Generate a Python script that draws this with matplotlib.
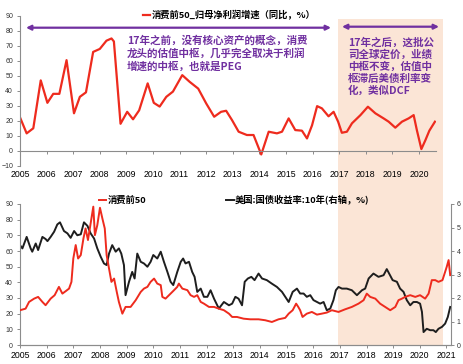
import matplotlib
matplotlib.use("Agg")
import matplotlib.pyplot as plt
from matplotlib.patches import Rectangle, FancyArrowPatch

plt.rcParams['font.family'] = ['Liberation Sans', 'Noto Sans CJK SC', 'DejaVu Sans']
CJK = ['Noto Sans CJK SC', 'DejaVu Sans']

# ---------------- data ----------------
# top: 消费前50 归母净利润增速 (同比, %)
top_points = [
    (2005.0, 22.3), (2005.25, 11.6), (2005.5, 15), (2005.78, 47), (2006.03, 32),
    (2006.25, 38), (2006.48, 38), (2006.75, 60.5), (2007.03, 25), (2007.25, 36),
    (2007.48, 39), (2007.75, 66), (2008.0, 68), (2008.25, 73.5), (2008.44, 75),
    (2008.53, 73), (2008.78, 18), (2009.03, 26), (2009.25, 21), (2009.48, 27),
    (2009.8, 45), (2010.03, 32), (2010.25, 29.5), (2010.5, 36), (2010.75, 39.5),
    (2011.1, 50.5), (2011.38, 46), (2011.7, 41.5), (2012.0, 31.6), (2012.3, 22.7),
    (2012.56, 26), (2012.75, 26.7), (2012.97, 20.5), (2013.22, 12.7), (2013.53, 10.5),
    (2013.78, 10.5), (2014.07, -2.5), (2014.35, 12.7), (2014.66, 11.6), (2014.85, 12.7),
    (2015.1, 21.6), (2015.35, 13.8), (2015.6, 13.4), (2015.79, 8.2), (2015.98, 17),
    (2016.17, 29.8), (2016.35, 28.3), (2016.6, 23), (2016.79, 26), (2016.96, 19.4),
    (2017.1, 12), (2017.29, 12.7), (2017.48, 18.3), (2017.8, 23.8), (2018.08, 29.4),
    (2018.36, 25), (2018.67, 21.6), (2018.86, 19.4), (2019.11, 15.4), (2019.36, 19.4),
    (2019.61, 21.6), (2019.8, 23.8), (2019.92, 13.8), (2020.09, 1.1), (2020.24, 7),
    (2020.39, 13.4), (2020.6, 19.4),
]
top_x = [p[0] for p in top_points]
top_y = [p[1] for p in top_points]

# bottom: 消费前50 (left axis)
cons_points = [
    (2005.0, 22.2), (2005.21, 23.2), (2005.34, 27.5), (2005.53, 29.6), (2005.68, 30.7),
    (2005.84, 27.5), (2005.96, 25.4), (2006.15, 29.6), (2006.3, 31.8), (2006.46, 37.1),
    (2006.59, 32.8), (2006.71, 34.3), (2006.84, 36), (2006.93, 40.3), (2007.0, 55.2),
    (2007.09, 63.8), (2007.18, 55.2), (2007.28, 57.4), (2007.38, 68), (2007.46, 74.4),
    (2007.55, 67), (2007.65, 77.6), (2007.75, 88.3), (2007.81, 70.1), (2007.9, 76.5),
    (2008.0, 87.6), (2008.09, 80.8), (2008.18, 74.4), (2008.25, 57.4), (2008.34, 48.8),
    (2008.43, 40.3), (2008.53, 42.4), (2008.63, 33.9), (2008.71, 27.5), (2008.84, 20),
    (2008.96, 24.3), (2009.15, 24.3), (2009.34, 28.6), (2009.53, 33.9), (2009.65, 36),
    (2009.78, 37.1), (2009.9, 40.3), (2010.03, 42.4), (2010.15, 39.2), (2010.28, 38.2),
    (2010.34, 30.7), (2010.46, 29.6), (2010.65, 32.8), (2010.78, 35), (2010.9, 37.1),
    (2010.96, 39.2), (2011.09, 36), (2011.28, 35), (2011.4, 31.8), (2011.53, 30.7),
    (2011.65, 31.8), (2011.78, 27.5), (2011.9, 26.4), (2012.09, 24.3), (2012.28, 24.3),
    (2012.46, 23.2), (2012.65, 22.2), (2012.84, 20), (2012.96, 17.9), (2013.14, 17.9),
    (2013.39, 16.8), (2013.64, 16.4), (2013.95, 16.4), (2014.2, 15.8), (2014.45, 14.7),
    (2014.7, 16.4), (2014.95, 17.3), (2015.08, 20), (2015.23, 22.2), (2015.36, 26.4),
    (2015.44, 24.3), (2015.51, 22.2), (2015.6, 17.9), (2015.76, 20), (2015.95, 21.1),
    (2016.14, 19.4), (2016.32, 20), (2016.51, 20.7), (2016.7, 22.2), (2016.95, 21.1),
    (2017.2, 22.8), (2017.45, 24.3), (2017.7, 26.4), (2017.89, 28.6), (2018.01, 32.8),
    (2018.14, 30.7), (2018.33, 29.6), (2018.51, 26.4), (2018.7, 24.3), (2018.89, 22.2),
    (2019.08, 24.3), (2019.2, 28.6), (2019.33, 29.6), (2019.45, 30.7), (2019.64, 31.8),
    (2019.83, 30.7), (2020.01, 31.8), (2020.2, 29.6), (2020.33, 32.8), (2020.45, 41.4),
    (2020.58, 41.4), (2020.7, 40.3), (2020.85, 41.4), (2020.95, 46.7), (2021.01, 49.9),
    (2021.08, 54.2), (2021.14, 44.6),
]
cons_x = [p[0] for p in cons_points]
cons_y = [p[1] for p in cons_points]

# bottom: 美国:国债收益率:10年 (right axis, %)
ust_points = [
    (2005.0, 4.25), (2005.09, 4.11), (2005.25, 4.6), (2005.4, 4.11), (2005.46, 3.97),
    (2005.59, 4.32), (2005.68, 4.04), (2005.84, 4.6), (2005.96, 4.51), (2006.03, 4.42),
    (2006.15, 4.6), (2006.28, 4.82), (2006.4, 5.13), (2006.5, 5.22), (2006.65, 4.85),
    (2006.78, 4.75), (2006.9, 4.56), (2007.03, 4.85), (2007.15, 4.67), (2007.28, 4.71),
    (2007.4, 5.22), (2007.53, 5.07), (2007.65, 4.75), (2007.78, 4.53), (2007.9, 4.11),
    (2008.03, 3.75), (2008.15, 3.47), (2008.25, 3.4), (2008.34, 3.89), (2008.46, 4.25),
    (2008.59, 3.97), (2008.71, 4.11), (2008.8, 3.89), (2008.9, 3.4), (2008.96, 2.12),
    (2009.09, 2.69), (2009.21, 3.11), (2009.3, 2.83), (2009.4, 3.89), (2009.53, 3.54),
    (2009.65, 3.47), (2009.78, 3.33), (2009.9, 3.54), (2010.0, 3.83), (2010.15, 3.68),
    (2010.28, 3.97), (2010.4, 3.54), (2010.53, 3.11), (2010.65, 2.69), (2010.75, 2.55),
    (2010.9, 3.11), (2011.03, 3.54), (2011.12, 3.68), (2011.21, 3.47), (2011.34, 3.54),
    (2011.46, 3.11), (2011.55, 2.9), (2011.65, 2.26), (2011.78, 2.4), (2011.9, 2.05),
    (2012.03, 2.05), (2012.15, 2.33), (2012.28, 1.97), (2012.46, 1.55), (2012.65, 1.83),
    (2012.84, 1.69), (2012.96, 1.76), (2013.08, 2.05), (2013.2, 1.97), (2013.33, 1.69),
    (2013.43, 2.69), (2013.55, 2.83), (2013.68, 2.9), (2013.8, 2.76), (2013.95, 3.04),
    (2014.08, 2.83), (2014.26, 2.76), (2014.45, 2.61), (2014.64, 2.47), (2014.83, 2.26),
    (2014.95, 2.05), (2015.08, 1.83), (2015.23, 2.26), (2015.39, 2.4), (2015.51, 2.19),
    (2015.64, 2.19), (2015.76, 2.05), (2015.89, 2.12), (2016.01, 1.91), (2016.14, 1.83),
    (2016.26, 1.76), (2016.39, 1.83), (2016.51, 1.48), (2016.64, 1.55), (2016.76, 1.91),
    (2016.85, 2.33), (2016.95, 2.47), (2017.08, 2.4), (2017.26, 2.4), (2017.45, 2.33),
    (2017.64, 2.12), (2017.83, 2.33), (2017.95, 2.4), (2018.08, 2.83), (2018.26, 3.04),
    (2018.45, 2.9), (2018.64, 2.97), (2018.76, 3.23), (2018.85, 3.04), (2018.98, 2.76),
    (2019.14, 2.69), (2019.26, 2.4), (2019.39, 2.26), (2019.51, 1.91), (2019.64, 1.69),
    (2019.76, 1.83), (2019.89, 1.83), (2020.01, 1.76), (2020.08, 1.41), (2020.14, 0.55),
    (2020.26, 0.69), (2020.39, 0.63), (2020.51, 0.63), (2020.6, 0.55), (2020.7, 0.69),
    (2020.83, 0.77), (2020.95, 0.91), (2021.05, 1.19), (2021.14, 1.62),
]
ust_x = [p[0] for p in ust_points]
ust_y = [p[1] for p in ust_points]

top_year_ticks = list(range(2005, 2021))
bot_year_ticks = list(range(2005, 2022))
top_y_ticks = list(range(-10, 91, 10))
left_y_ticks = list(range(0, 91, 10))
right_y_ticks = list(range(0, 7))

top_label = "消费前50_归母净利润增速（同比，%）"
cons_label = "消费前50"
ust_label = "美国:国债收益率:10年(右轴，%)"
note_left = "17年之前，没有核心资产的概念，消费\n龙头的估值中枢，几乎完全取决于利润\n增速的中枢，也就是PEG"
note_right = "17年之后，这批公\n司全球定价，业绩\n中枢不变，估值中\n枢滞后美债利率变\n化，类似DCF"

RED = '#EE2B1E'
BLACK = '#1E1E1E'
PURPLE = '#7030A0'
SHADE = '#FBE5D6'
AXC = '#8C8C8C'

W, H = 464, 364
fig = plt.figure(figsize=(W / 100, H / 100), dpi=100)

# shaded region (spans both panels)
fig.patches.append(Rectangle((338 / W, 19 / H), (443 - 338) / W, (345 - 19) / H,
                             transform=fig.transFigure, facecolor=SHADE,
                             edgecolor='none', zorder=-5))

# ---------------- top panel ----------------
ax1 = fig.add_axes([20 / W, (H - 165.7) / H, 416 / W, 149.7 / H])
ax1.set_facecolor('none')
ax1.plot(top_x, top_y, color=RED, lw=1.6, solid_joinstyle='round', label=top_label)
ax1.set_xlim(2005, 2020.64)
ax1.set_ylim(-10, 90)
for s in ['top', 'right']:
    ax1.spines[s].set_visible(False)
ax1.spines['bottom'].set_position(('data', 0))
for s in ['left', 'bottom']:
    ax1.spines[s].set_color(AXC)
    ax1.spines[s].set_linewidth(0.8)
ax1.set_xticks(top_year_ticks)
ax1.set_yticks(top_y_ticks)
ax1.tick_params(axis='x', length=2.5, width=0.7, color=AXC, pad=11.5, labelsize=6.3,
                labelcolor='black')
ax1.tick_params(axis='y', length=2, width=0.7, color=AXC, pad=3, labelsize=5,
                labelcolor='#333333')

ax1.legend(loc='center', bbox_to_anchor=(229 / W, (H - 15) / H),
           bbox_transform=fig.transFigure, frameon=False, handlelength=0.8,
           handletextpad=0.1, borderpad=0,
           prop={'family': CJK, 'weight': 'bold', 'size': 6.7})

fig.text(127 / W, (H - 35) / H, note_left, ha='left', va='top', color=PURPLE,
         fontsize=7.6, fontweight='bold', family=CJK, linespacing=1.28)
fig.text(348 / W, (H - 37) / H, note_right, ha='left', va='top', color=PURPLE,
         fontsize=7.6, fontweight='bold', family=CJK, linespacing=1.22)

for (x0, x1, yy) in [(26, 331, 27.7), (342, 439, 26.7)]:
    fig.add_artist(FancyArrowPatch((x0 / W, (H - yy) / H), (x1 / W, (H - yy) / H),
                                   transform=fig.transFigure, arrowstyle='<|-|>',
                                   mutation_scale=7, color=PURPLE, lw=1.6,
                                   shrinkA=0, shrinkB=0))

# ---------------- bottom panel ----------------
ax2 = fig.add_axes([20 / W, 19 / H, 431 / W, 141 / H])
ax2.set_facecolor('none')
l_red, = ax2.plot(cons_x, cons_y, color=RED, lw=1.4, label=cons_label, zorder=3)
ax2r = ax2.twinx()
ax2r.set_facecolor('none')
l_blk, = ax2r.plot(ust_x, ust_y, color=BLACK, lw=1.4, label=ust_label, zorder=2)
ax2.set_zorder(ax2r.get_zorder() + 1)
ax2.set_xlim(2005, 2021.17)
ax2.set_ylim(0, 90)
ax2r.set_ylim(0, 6)
for a in (ax2, ax2r):
    a.spines['top'].set_visible(False)
    for s in ['left', 'bottom', 'right']:
        a.spines[s].set_color(AXC)
        a.spines[s].set_linewidth(0.8)
ax2.spines['right'].set_visible(False)
ax2r.spines['left'].set_visible(False)
ax2.set_xticks(bot_year_ticks)
ax2.set_yticks(left_y_ticks)
ax2r.set_yticks(right_y_ticks)
ax2.tick_params(axis='x', length=2.5, width=0.7, color=AXC, pad=1.5, labelsize=6.3,
                labelcolor='black')
ax2.tick_params(axis='y', length=2, width=0.7, color=AXC, pad=3, labelsize=5,
                labelcolor='#333333')
ax2r.tick_params(axis='y', length=2, width=0.7, color=AXC, pad=2, labelsize=5,
                 labelcolor='#333333')

ax2.legend(handles=[l_red, l_blk], loc='center', ncol=2,
           bbox_to_anchor=(234 / W, (H - 200) / H), bbox_transform=fig.transFigure,
           frameon=False, handlelength=0.8, handletextpad=0.1, columnspacing=8.6,
           borderpad=0, prop={'family': CJK, 'weight': 'bold', 'size': 6.7})

fig.savefig('out.png', dpi=100)
